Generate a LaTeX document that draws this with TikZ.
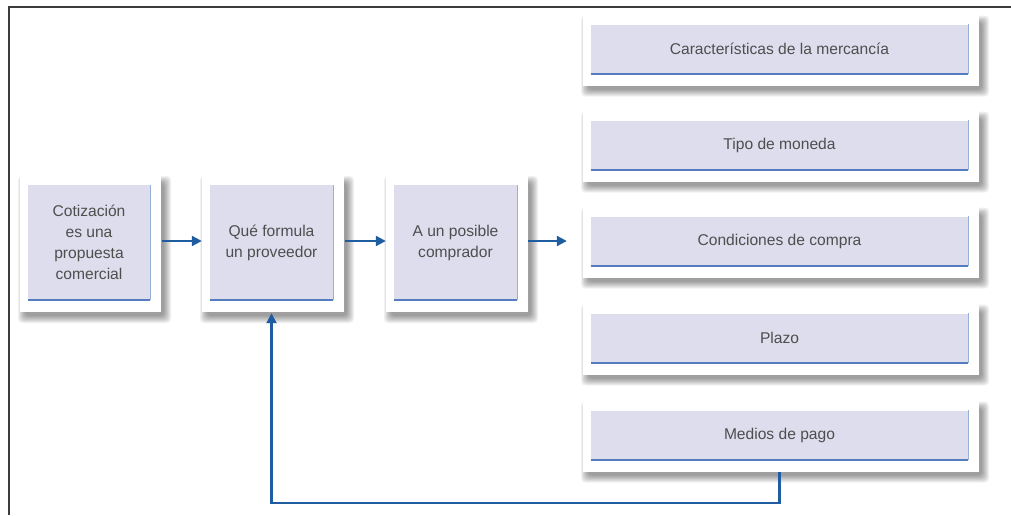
\documentclass[tikz,border=0pt]{standalone}
\usepackage{fontspec}
\setmainfont{Liberation Sans}
\usetikzlibrary{arrows.meta,calc}

\definecolor{lav}{RGB}{221,221,237}
\definecolor{edgeblue}{RGB}{84,124,190}
\definecolor{edgelight}{RGB}{150,176,216}
\definecolor{flow}{RGB}{31,92,160}
\definecolor{ink}{RGB}{78,78,78}
\definecolor{framegray}{RGB}{60,60,60}

\tikzset{
  cardbg/.style={rectangle, fill=white, inner sep=0pt},
  itembox/.style={rectangle, fill=lav, inner sep=0pt, align=center,
    text=ink, font=\fontsize{15.6}{21}\selectfont},
  edgeb/.style={draw=edgeblue, line width=1.8pt},
  edger/.style={draw=edgelight, line width=1.2pt},
  flowarrow/.style={draw=flow, line width=2.2pt,
    -{Triangle[length=10pt,width=10pt]}},
  frameline/.style={draw=framegray, line width=2.4pt},
}

% card with soft shadow, white border and tinted inner box
% #1 name, #2 cx, #3 cy, #4 width, #5 height, #6 text
\newcommand{\flowcard}[6]{%
  \pgfmathsetmacro{\cL}{#2-#4/2-8}%
  \pgfmathsetmacro{\cR}{#2+#4/2+11}%
  \pgfmathsetmacro{\cT}{#3-#5/2-10}%
  \pgfmathsetmacro{\cB}{#3+#5/2+12}%
  \pgfmathsetmacro{\cW}{\cR-\cL}%
  \pgfmathsetmacro{\cH}{\cB-\cT}%
  \pgfmathsetmacro{\cX}{(\cL+\cR)/2}%
  \pgfmathsetmacro{\cY}{(\cT+\cB)/2}%
  \foreach \k in {0,...,7}{%
    \fill[black, opacity=0.055, rounded corners=4pt]
      (\cL+5-\k,\cT+8-\k) rectangle (\cR+3+\k,\cB+4+\k);}
  \node[cardbg, minimum width=\cW pt, minimum height=\cH pt] (#1c) at (\cX,\cY) {};
  \node[itembox, minimum width=#4pt, minimum height=#5pt] (#1) at (#2,#3) {#6};
  \draw[edgeb] (#1.south west) -- (#1.south east);
  \draw[edger] (#1.south east) -- (#1.north east);
}

\begin{document}
\begin{tikzpicture}[x=1pt,y=-1pt]
\useasboundingbox (0,0) rectangle (1011,515);
\fill[white] (0,0) rectangle (1011,515);

% outer frame (top and left edges)
\draw[frameline] (1011,7) -- (9,7) -- (9,515);

% main chain
\flowcard{q1}{89}{242.5}{122}{115}{Cotización\\es una\\propuesta\\comercial}
\flowcard{q2}{271.5}{242.5}{123}{115}{Qué formula\\un proveedor}
\flowcard{q3}{455.5}{242.5}{123}{115}{A un posible\\comprador}

% list of quotation contents
\flowcard{r1}{779.5}{49}{377}{49}{Características de la mercancía}
\flowcard{r2}{779.5}{145}{377}{49}{Tipo de moneda}
\flowcard{r3}{779.5}{241}{377}{49}{Condiciones de compra}
\flowcard{r4}{779.5}{338}{377}{49}{Plazo}
\flowcard{r5}{779.5}{435}{377}{49}{Medios de pago}

% arrows
\draw[flowarrow] ($(q1c.east |- q1)+(1,-1.5)$) -- ($(q2c.west |- q1)+(0,-1.5)$);
\draw[flowarrow] ($(q2c.east |- q2)+(1,-1.5)$) -- ($(q3c.west |- q2)+(0,-1.5)$);
\draw[flowarrow, shorten >=16pt] ($(q3c.east |- q3)+(0,-1.5)$) -- ($(r3c.west |- q3)+(0,-1.5)$);

% feedback loop back to the supplier
\draw[flowarrow] (r5.south |- r5c.south) -- ++(0,31) -| ($(q2.south |- q2c.south)+(0,1)$);
\end{tikzpicture}
\end{document}
